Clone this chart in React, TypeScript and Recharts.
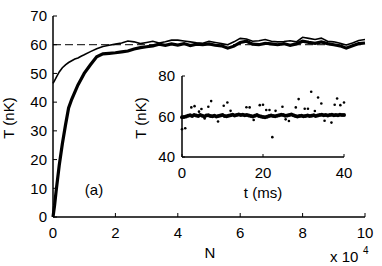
import React from 'react';
import { ComposedChart, ScatterChart, Line, XAxis, YAxis, ReferenceLine, Scatter } from 'recharts';

// ---------- main plot data (N in units of 10^4, T in nK) ----------
const N_VALUES = [0, 0.05, 0.1, 0.2, 0.3, 0.4, 0.5, 0.6, 0.7, 0.8, 0.9, 1.0,
  1.2, 1.4, 1.6, 1.8, 2.0, 2.2, 2.4, 2.6, 2.8, 3.0, 3.2, 3.4, 3.6, 3.8, 4.0,
  4.2, 4.4, 4.6, 4.8, 5.0, 5.2, 5.4, 5.6, 5.8, 6.0, 6.2, 6.4, 6.6, 6.8, 7.0,
  7.2, 7.4, 7.6, 7.8, 8.0, 8.2, 8.4, 8.6, 8.8, 9.0, 9.2, 9.4, 9.6, 9.8, 10.0];

const T_THICK = [0, 4, 9, 18, 25.5, 32, 38, 41, 43.5, 46, 48, 50,
  53, 55.8, 56.8, 57, 57.2, 57.5, 57.8, 58.5, 59, 59.3, 59.6, 60.2, 59.8, 60.3, 59.9,
  60.4, 59.7, 60.2, 60.0, 60.3, 59.8, 59.6, 58.8, 59.5, 60.8, 61.2, 60.2, 60.0, 60.5, 60.3,
  60.0, 60.4, 59.8, 60.3, 61.2, 60.8, 60.5, 61.0, 60.4, 60.0, 59.6, 58.8, 59.6, 60.4, 60.6];

const T_THIN = [46.5, 47.5, 48.5, 50.5, 52, 53, 53.8, 54.4, 55, 55.4, 56, 56.5,
  57.6, 58.6, 59.4, 59.8, 60.2, 60.6, 61.3, 61.0, 60.4, 60.8, 61.2, 60.6, 61.0, 61.6, 61.6,
  61.3, 61.0, 60.7, 60.5, 61.2, 60.8, 60.4, 60.0, 61.0, 62.2, 62.0, 61.2, 61.4, 61.8, 61.2,
  61.0, 61.1, 61.4, 61.0, 62.6, 62.2, 61.8, 62.3, 61.2, 61.0, 60.5, 59.9, 60.6, 61.5, 61.8];

const X_TICKS = [0, 2, 4, 6, 8, 10];
const Y_TICKS = [0, 10, 20, 30, 40, 50, 60, 70];
const PLATEAU = 60;

// ---------- inset data (t in ms, T in nK) ----------
const INSET_T = [0, 0.5, 1, 1.5, 2, 2.5, 3, 3.5, 4, 4.5, 5, 5.5, 6, 6.5, 7, 7.5, 8, 8.5, 9, 9.5,
  10, 10.5, 11, 11.5, 12, 12.5, 13, 13.5, 14, 14.5, 15, 15.5, 16, 16.5, 17, 17.5, 18, 18.5, 19, 19.5,
  20, 20.5, 21, 21.5, 22, 22.5, 23, 23.5, 24, 24.5, 25, 25.5, 26, 26.5, 27, 27.5, 28, 28.5, 29, 29.5,
  30, 30.5, 31, 31.5, 32, 32.5, 33, 33.5, 34, 34.5, 35, 35.5, 36, 36.5, 37, 37.5, 38, 38.5, 39, 39.5, 40];

const INSET_BAND = [59.6, 59.8, 60.0, 60.4, 60.6, 60.3, 60.8, 60.5, 60.2, 60.7, 60.4, 60.0, 60.5, 60.6, 60.3, 60.1, 60.4, 60.0, 60.2, 60.5,
  60.7, 60.3, 60.1, 60.4, 60.6, 60.9, 60.5, 60.8, 61.0, 60.7, 60.9, 60.6, 60.8, 60.5, 60.3, 60.0, 60.4, 60.7, 60.3, 60.0,
  59.8, 59.6, 59.9, 60.2, 60.5, 60.3, 60.1, 60.4, 60.6, 60.9, 60.7, 60.4, 60.5, 60.8, 61.0, 60.6, 60.3, 60.0, 60.2, 60.4,
  60.1, 60.3, 60.5, 60.2, 60.4, 60.6, 60.3, 60.5, 60.7, 60.9, 60.6, 60.8, 60.5, 60.7, 60.9, 60.6, 60.8, 60.6, 60.9, 60.7, 60.8];

const SCATTER_T = [0, 0.8, 2.3, 3.1, 4.2, 4.8, 5.6, 6.5, 7.2, 8.9, 10.3, 11.2, 12.0, 15.9, 16.7, 17.7,
  19.2, 20.0, 20.8, 21.6, 22.3, 23.1, 24.8, 25.6, 26.4, 28.1, 28.8, 30.3, 31.1, 31.9, 32.8, 33.6,
  34.4, 35.2, 36.9, 37.7, 38.3, 39.1, 40.0];
const SCATTER_V = [53.7, 54.2, 64.5, 65.1, 62.4, 63.7, 59.0, 64.8, 67.6, 57.5, 65.3, 66.9, 62.8, 64.6, 64.5, 58.3,
  65.6, 65.8, 63.2, 63.2, 49.8, 62.8, 64.8, 58.6, 57.8, 64.5, 68.6, 63.8, 63.8, 72.2, 62.7, 69.4,
  66.4, 57.9, 57.0, 65.8, 68.9, 65.6, 66.9];

const INSET_X_TICKS = [0, 20, 40];
const INSET_Y_TICKS = [40, 60, 80];

const mainData = N_VALUES.map((n, i) => ({ N: n, thick: T_THICK[i], thin: T_THIN[i] }));
const bandData = INSET_T.map((t, i) => ({ t, T: INSET_BAND[i] }));
const scatterData = SCATTER_T.map((t, i) => ({ t, T: SCATTER_V[i] }));

const FONT = '"Liberation Sans", Arial, Helvetica, sans-serif';
const tickStyle = { fill: '#000', fontSize: 15, fontFamily: FONT };
const axisLine = { stroke: '#000', strokeWidth: 1.5 };
const tickLine = { stroke: '#000', strokeWidth: 1 };

const Dot = (r: number) => (p: any) => <circle cx={p.cx} cy={p.cy} r={r} fill="#000" />;

export default function App() {
  return (
    <div style={{ position: 'absolute', left: 0, top: 0, width: 382, height: 266, background: '#fff', overflow: 'hidden' }}>
      <div style={{ position: 'absolute', left: 0, top: 0 }}>
        <ComposedChart width={382} height={266} data={mainData} margin={{ top: 16, right: 17, bottom: 0, left: 0 }}>
          <XAxis dataKey="N" type="number" domain={[0, 10]} ticks={X_TICKS} interval={0}
            orientation="bottom" height={49} tickSize={-4} tickMargin={14}
            axisLine={axisLine} tickLine={tickLine} tick={tickStyle} />
          <XAxis xAxisId="top" type="number" domain={[0, 10]} ticks={X_TICKS} interval={0}
            orientation="top" height={0} tickSize={-4} tick={false}
            axisLine={axisLine} tickLine={tickLine} />
          <YAxis type="number" domain={[0, 70]} ticks={Y_TICKS} interval={0}
            width={53} tickSize={-4} tickMargin={10}
            axisLine={axisLine} tickLine={tickLine} tick={tickStyle} />
          <YAxis yAxisId="right" orientation="right" type="number" domain={[0, 70]} ticks={Y_TICKS} interval={0}
            width={0} tickSize={-4} tick={false}
            axisLine={axisLine} tickLine={tickLine} />
          <ReferenceLine y={PLATEAU} stroke="#000" strokeWidth={1} strokeDasharray="8 4" />
          <Line dataKey="thin" type="linear" stroke="#000" strokeWidth={1.6} dot={false} isAnimationActive={false} />
          <Line dataKey="thick" type="linear" stroke="#000" strokeWidth={3.2} dot={false} isAnimationActive={false} />
        </ComposedChart>
      </div>

      <div style={{ position: 'absolute', left: 140, top: 60 }}>
        <ScatterChart width={220} height={140} margin={{ top: 16, right: 16, bottom: 0, left: 0 }}>
          <XAxis dataKey="t" type="number" domain={[0, 40]} ticks={INSET_X_TICKS} interval={0}
            orientation="bottom" height={43} tickSize={-3} tickMargin={13}
            axisLine={axisLine} tickLine={tickLine} tick={tickStyle} />
          <XAxis xAxisId="top" type="number" domain={[0, 40]} ticks={INSET_X_TICKS} interval={0}
            orientation="top" height={0} tickSize={-3} tick={false}
            axisLine={axisLine} tickLine={tickLine} />
          <YAxis dataKey="T" type="number" domain={[40, 80]} ticks={INSET_Y_TICKS} interval={0}
            width={42} tickSize={-3} tickMargin={10}
            axisLine={axisLine} tickLine={tickLine} tick={tickStyle} />
          <YAxis yAxisId="right" orientation="right" type="number" domain={[40, 80]} ticks={INSET_Y_TICKS} interval={0}
            width={0} tickSize={-3} tick={false}
            axisLine={axisLine} tickLine={tickLine} />
          <Scatter data={bandData} shape={Dot(2)} isAnimationActive={false} />
          <Scatter data={scatterData} shape={Dot(1.3)} isAnimationActive={false} />
        </ScatterChart>
      </div>

      <svg width={382} height={266} style={{ position: 'absolute', left: 0, top: 0, pointerEvents: 'none' }}
        fontFamily={FONT} fontSize={15} fill="#000">
        <text x={14} y={118} textAnchor="middle" transform="rotate(-90 14 118)">T (nK)</text>
        <text x={146} y={118} textAnchor="middle" transform="rotate(-90 146 118)">T (nK)</text>
        <text x={94} y={195} textAnchor="middle">(a)</text>
        <text x={263} y={198} textAnchor="middle">t (ms)</text>
        <text x={210} y={258} textAnchor="middle">N</text>
        <text x={330} y={261.5}>x 10</text>
        <text x={363} y={254} fontSize={10}>4</text>
      </svg>
    </div>
  );
}
